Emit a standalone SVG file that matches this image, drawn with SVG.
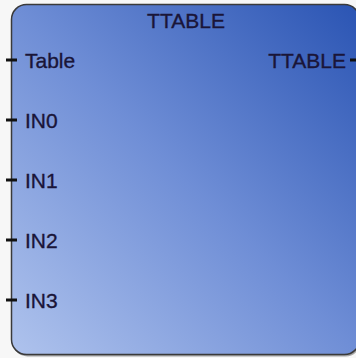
<svg xmlns="http://www.w3.org/2000/svg" width="356" height="358" viewBox="0 0 356 358">
  <defs>
    <linearGradient id="bodyGrad" x1="0" y1="1" x2="1" y2="0">
      <stop offset="0" stop-color="#afc3ed"/>
      <stop offset="0.5" stop-color="#6f8ed6"/>
      <stop offset="1" stop-color="#2a54b3"/>
    </linearGradient>
  </defs>
  <style>
    .label { font-family: "Liberation Sans", Arial, sans-serif; font-size: 21px; fill: #1a1538; stroke: #1a1538; stroke-width: 0.35; }
    .pin { stroke: #111111; stroke-width: 3; stroke-linecap: butt; }
    .body { fill: url(#bodyGrad); stroke: #3a3a3a; stroke-width: 1.5; }
  </style>
  <rect x="0" y="0" width="356" height="358" fill="#f7f7f7"/>
  <g id="ttable-block">
    <rect x="12.5" y="6.5" width="348" height="350" rx="15" ry="15" fill="#555555" opacity="0.5"/>
    <rect class="body" x="11.5" y="4.5" width="348" height="350" rx="15" ry="15"/>
    <text class="label" x="186" y="28" text-anchor="middle">TTABLE</text>
    <g id="pin-table">
      <line class="pin" x1="6" y1="60" x2="17" y2="60"/>
      <text class="label" x="25" y="67.5">Table</text>
    </g>
    <g id="pin-in0">
      <line class="pin" x1="6" y1="120" x2="17" y2="120"/>
      <text class="label" x="25" y="127.5">IN0</text>
    </g>
    <g id="pin-in1">
      <line class="pin" x1="6" y1="180" x2="17" y2="180"/>
      <text class="label" x="25" y="187.5">IN1</text>
    </g>
    <g id="pin-in2">
      <line class="pin" x1="6" y1="240" x2="17" y2="240"/>
      <text class="label" x="25" y="247.5">IN2</text>
    </g>
    <g id="pin-in3">
      <line class="pin" x1="6" y1="300" x2="17" y2="300"/>
      <text class="label" x="25" y="307.5">IN3</text>
    </g>
    <g id="pin-ttable-out">
      <line class="pin" x1="350" y1="60" x2="356" y2="60"/>
      <text class="label" x="346" y="67.5" text-anchor="end">TTABLE</text>
    </g>
  </g>
  <g id="connectors"/>
</svg>
